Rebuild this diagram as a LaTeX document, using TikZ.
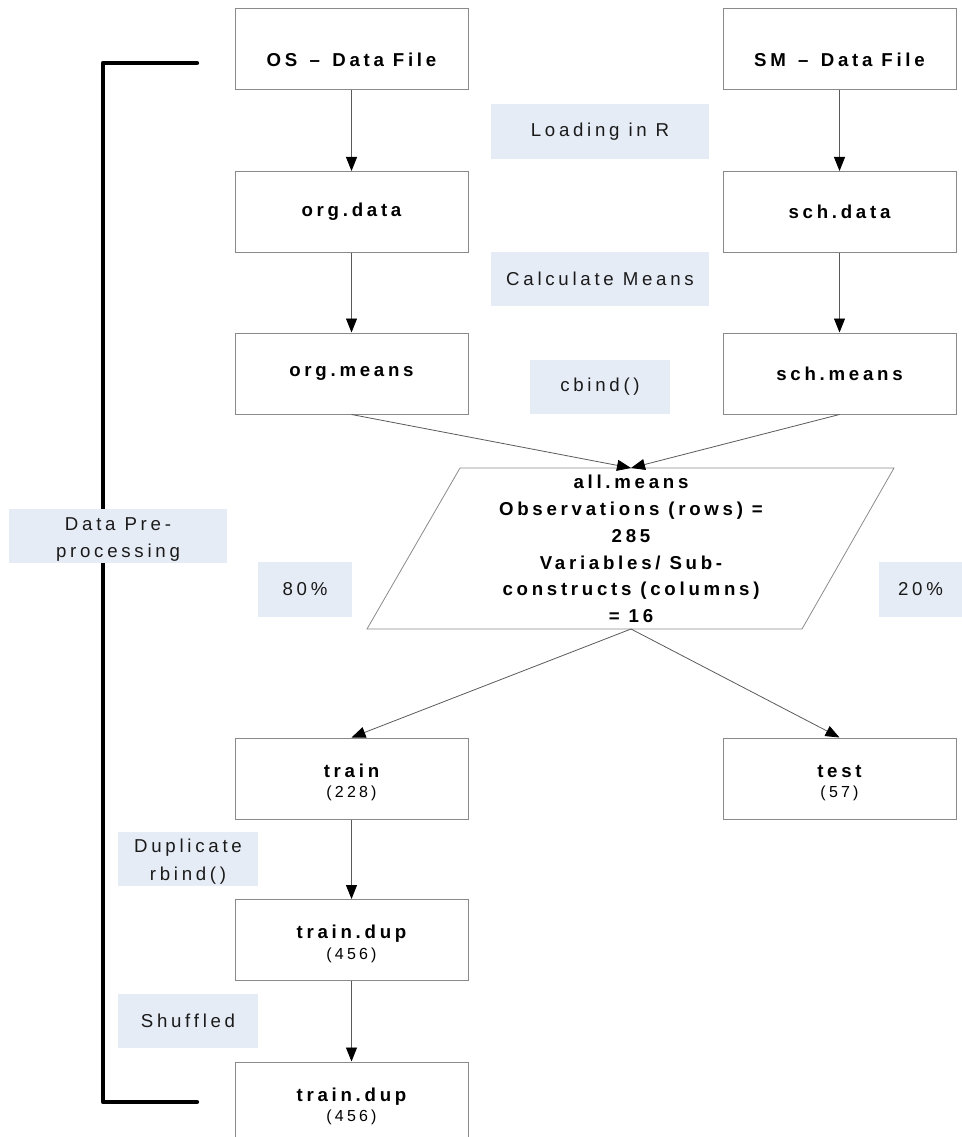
\documentclass[tikz,border=0pt]{standalone}
\usepackage{fontspec}
\setmainfont[LetterSpace=20]{Liberation Sans}
\usetikzlibrary{arrows.meta}
\definecolor{boxgray}{HTML}{8A8A8A}
\definecolor{linegray}{HTML}{5A5A5A}
\definecolor{lblblue}{HTML}{E6ECF6}
\definecolor{textdark}{HTML}{1A1A1A}
\newcommand{\firststrut}[1]{\rule{0pt}{#1}}
\newcommand{\subline}[1]{{\mdseries\fontsize{12}{14}\selectfont #1}}
\begin{document}
\begin{tikzpicture}[x=0.75pt,y=-0.75pt,
  box/.style={draw=boxgray, line width=0.75pt, minimum width=174.75pt, minimum height=60.75pt,
    inner sep=0pt, align=center, text=black, font=\fontsize{14}{15.5}\selectfont\bfseries},
  topbox/.style={box, text height=26pt, text depth=0pt},
  lbl/.style={fill=lblblue, inner sep=0pt, align=center, text=textdark,
    font=\fontsize{14}{20}\selectfont},
  conn/.style={draw=linegray, line width=0.6pt, -{Triangle[length=10.5pt,width=8.25pt,color=black,fill=black]}},
  shapeline/.style={draw=boxgray, line width=0.6pt},
  bracket/.style={draw=black, line width=3.2pt, line join=round, line cap=round}
]
\useasboundingbox (0,0) rectangle (962,1137);
\clip (0,0) rectangle (962,1137);

% bracket
\coordinate (b1) at (197,63);
\coordinate (b2) at (103,63);
\coordinate (b3) at (103,1102);
\coordinate (b4) at (197,1102);
\draw[bracket] (b1) -- (b2) -- (b3) -- (b4);

% labels
\node[lbl, minimum width=163.5pt, minimum height=41.25pt] (load) at (600,131.5) {Loading in R};
\node[lbl, minimum width=163.5pt, minimum height=40.5pt] (calc) at (600,279) {Calculate Means};
\node[lbl, minimum width=105pt, minimum height=40.5pt] (cbind) at (600,387) {cbind()};
\node[lbl, minimum width=163.5pt, minimum height=40.5pt] (dpp) at (118,536) {\firststrut{14.5pt}Data Pre-\\processing};
\node[lbl, minimum width=70.5pt, minimum height=41.25pt] (p80) at (305,589.5) {80\%};
\node[lbl, minimum width=62.25pt, minimum height=41.25pt] (p20) at (920.5,589.5) {20\%};
\node[lbl, minimum width=105pt, minimum height=40.5pt, font=\fontsize{14}{21}\selectfont] (dupl) at (188,859) {\firststrut{14.5pt}Duplicate\\rbind()};
\node[lbl, minimum width=105pt, minimum height=40.5pt] (shuf) at (188,1021) {Shuffled};

% boxes
\node[topbox] (os) at (351.5,49.5) {OS\kern2.5pt{} – \kern2.5pt{}Data File};
\node[topbox] (sm) at (839.5,49.5) {SM\kern2.5pt{} – \kern2.5pt{}Data File};
\node[box] (orgdata) at (351.5,212) {org.data};
\node[box] (schdata) at (839.5,212) {sch.data};
\node[box] (orgmeans) at (351.5,373.5) {org.means};
\node[box] (schmeans) at (839.5,373.5) {sch.means};
\node[box] (train) at (351.5,778.5) {\firststrut{16pt}train\\\subline{(228)}};
\node[box] (test) at (839.5,778.5) {\firststrut{16pt}test\\\subline{(57)}};
\node[box] (dup1) at (351.5,940) {\firststrut{16pt}train.dup\\\subline{(456)}};
\node[box] (dup2) at (351.5,1102.5) {\firststrut{16pt}train.dup\\\subline{(456)}};

% parallelogram all.means
\coordinate (pA) at (460,468);
\coordinate (pB) at (894,468);
\coordinate (pC) at (802,629);
\coordinate (pD) at (367,629);
\coordinate (ptop) at (631,468);
\coordinate (pbot) at (631,629);
\draw[shapeline] (pA) -- (pB) -- (pC) -- (pD) -- cycle;
\node[align=center, inner sep=0pt, text=black, font=\fontsize{14}{20.1}\selectfont\bfseries] (allmeans) at (631,549)
  {all.means\\Observations (rows) =\\285\\Variables/ Sub-\\constructs (columns)\\= 16};

% connectors
\draw[conn] (os.south) -- (orgdata.north);
\draw[conn] (sm.south) -- (schdata.north);
\draw[conn] (orgdata.south) -- (orgmeans.north);
\draw[conn] (schdata.south) -- (schmeans.north);
\draw[conn] (orgmeans.south) -- (ptop);
\draw[conn] (schmeans.south) -- (ptop);
\draw[conn] (pbot) -- (train.north);
\draw[conn] (pbot) -- (test.north);
\draw[conn] (train.south) -- (dup1.north);
\draw[conn] (dup1.south) -- (dup2.north);
\end{tikzpicture}
\end{document}
